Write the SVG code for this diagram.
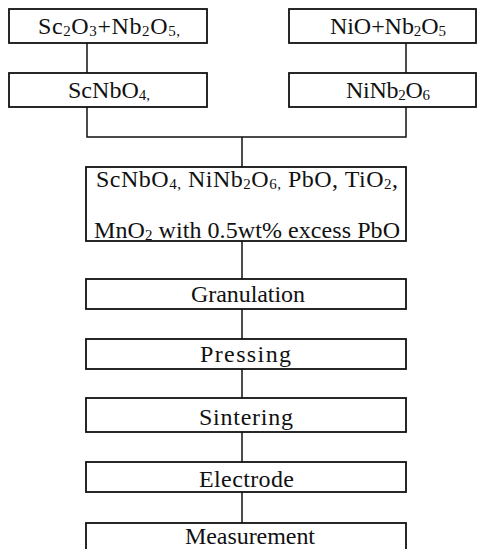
<svg xmlns="http://www.w3.org/2000/svg" width="483" height="549" viewBox="0 0 483 549">
<style>
.box{fill:#fff;stroke:#111;stroke-width:1.8}
.ln{fill:none;stroke:#111;stroke-width:1.5}
text{font-family:"Liberation Serif","Times New Roman",serif;font-size:24px;fill:#111}
.s{font-size:15px}
</style>
<rect width="483" height="549" fill="#fff"/>
<g id="connectors">
<path class="ln" d="M87 43V73"/>
<path class="ln" d="M406 43V73"/>
<path class="ln" d="M87 107V137H406V107"/>
<path class="ln" d="M242 137V167"/>
<path class="ln" d="M242 241V279"/>
<path class="ln" d="M242 309V339"/>
<path class="ln" d="M242 369V398"/>
<path class="ln" d="M242 432V462"/>
<path class="ln" d="M242 492V523"/>
</g>
<g id="n1">
<rect class="box" x="9" y="9" width="198" height="34"/>
<text x="38" y="34" textLength="142" lengthAdjust="spacing">Sc<tspan class="s" dy="2">2</tspan><tspan dy="-2">O</tspan><tspan class="s" dy="2">3</tspan><tspan dy="-2">+Nb</tspan><tspan class="s" dy="2">2</tspan><tspan dy="-2">O</tspan><tspan class="s" dy="2">5,</tspan></text>
</g>
<g id="n2">
<rect class="box" x="289" y="9" width="187" height="34"/>
<text x="330" y="34" textLength="116" lengthAdjust="spacing">NiO+Nb<tspan class="s" dy="2">2</tspan><tspan dy="-2">O</tspan><tspan class="s" dy="2">5</tspan></text>
</g>
<g id="n3">
<rect class="box" x="9" y="73" width="198" height="34"/>
<text x="68" y="98" textLength="82" lengthAdjust="spacing">ScNbO<tspan class="s" dy="2">4,</tspan></text>
</g>
<g id="n4">
<rect class="box" x="289" y="73" width="187" height="34"/>
<text x="346" y="98" textLength="84" lengthAdjust="spacing">NiNb<tspan class="s" dy="2">2</tspan><tspan dy="-2">O</tspan><tspan class="s" dy="2">6</tspan></text>
</g>
<g id="n5">
<rect class="box" x="86" y="167" width="320" height="74"/>
<text x="96" y="187" textLength="302" lengthAdjust="spacing">ScNbO<tspan class="s" dy="2">4,</tspan><tspan dy="-2"> NiNb</tspan><tspan class="s" dy="2">2</tspan><tspan dy="-2">O</tspan><tspan class="s" dy="2">6,</tspan><tspan dy="-2"> PbO, TiO</tspan><tspan class="s" dy="2">2</tspan><tspan dy="-2">,</tspan></text>
<text x="94" y="238" textLength="306" lengthAdjust="spacing">MnO<tspan class="s" dy="2">2</tspan><tspan dy="-2"> with 0.5wt% excess PbO</tspan></text>
</g>
<g id="n6">
<rect class="box" x="86" y="279" width="320" height="30"/>
<text x="191" y="302" textLength="114" lengthAdjust="spacing">Granulation</text>
</g>
<g id="n7">
<rect class="box" x="86" y="339" width="320" height="30"/>
<text x="200" y="362" textLength="91" lengthAdjust="spacing">Pressing</text>
</g>
<g id="n8">
<rect class="box" x="86" y="398" width="320" height="34"/>
<text x="199" y="425" textLength="94" lengthAdjust="spacing">Sintering</text>
</g>
<g id="n9">
<rect class="box" x="86" y="462" width="320" height="30"/>
<text x="199" y="487" textLength="95" lengthAdjust="spacing">Electrode</text>
</g>
<g id="n10">
<rect class="box" x="86" y="523" width="320" height="40"/>
<text x="185" y="544" textLength="130" lengthAdjust="spacing">Measurement</text>
</g>
</svg>
